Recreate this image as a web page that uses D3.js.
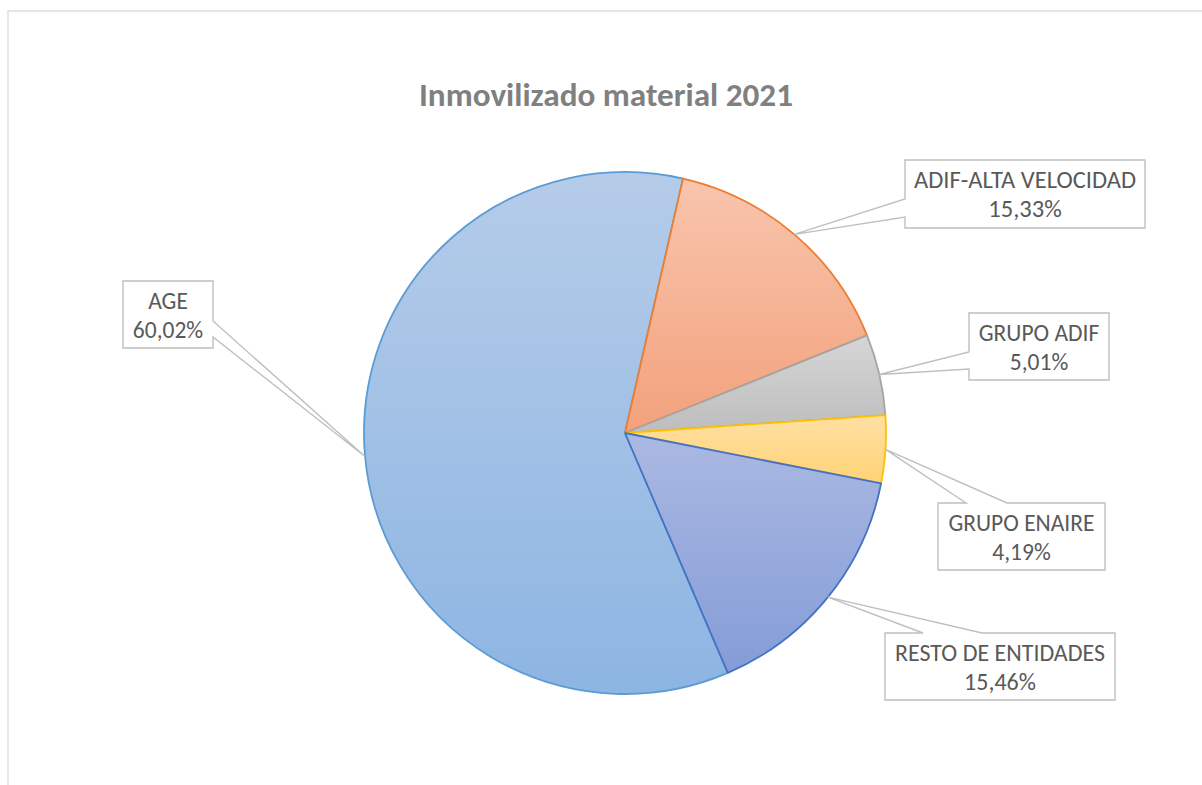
<!DOCTYPE html>
<html><head><meta charset="utf-8">
<script src="https://cdn.jsdelivr.net/npm/d3@7"></script>
<style>
html,body{margin:0;padding:0;background:#fff;}
svg{display:block;}
</style></head>
<body>
<svg id="chart" width="1202" height="785"></svg>
<script>
// ---- data ----
const categories = ["ADIF-ALTA VELOCIDAD", "GRUPO ADIF", "GRUPO ENAIRE", "RESTO DE ENTIDADES", "AGE"];
const values = [15.33, 5.01, 4.19, 15.46, 60.02];
const valueLabels = ["15,33%", "5,01%", "4,19%", "15,46%", "60,02%"];
const title = "Inmovilizado material 2021";

// ---- styles / layout ----
const fills = [["#f8c5ad", "#f3a17c"], ["#d6d6d6", "#bdbdbd"], ["#ffe0a3", "#ffd276"], ["#abb9e2", "#849cd7"], ["#b5cce9", "#8db5e2"]];
const strokes = ["#ed7d31", "#a5a5a5", "#ffc000", "#4472c4", "#5b9bd5"];
const drawOrder = [4, 0, 1, 2, 3];
const labelLayout = [
  {x: 905, y: 160, w: 240, h: 68, side: "left", a: 39, b: 57, tw: 222},
  {x: 969, y: 313, w: 140, h: 67, side: "left", a: 39, b: 56, tw: 121},
  {x: 938, y: 503, w: 167, h: 67, side: "top", a: 28, b: 69, tw: 147},
  {x: 885, y: 633, w: 230, h: 67, side: "top", a: 38, b: 97, tw: 210},
  {x: 123, y: 281, w: 90, h: 67, side: "right", a: 40, b: 56, tw: 70}
];
const cx = 625, cy = 433, R = 261;
const startDeg = 12.85;
const FONT = "Carlito, Calibri, Lato, 'Open Sans', sans-serif";

const svg = d3.select("#chart");

// chart border
svg.append("rect").attr("x", 8).attr("y", 11).attr("width", 1300).attr("height", 900)
  .attr("fill", "#fff").attr("stroke", "#d9d9d9").attr("stroke-width", 1.3);

// gradients
const defs = svg.append("defs");
fills.forEach((f, i) => {
  const g = defs.append("linearGradient").attr("id", "g" + i)
    .attr("x1", 0).attr("y1", 0).attr("x2", 0).attr("y2", 1);
  g.append("stop").attr("offset", "0%").attr("stop-color", f[0]);
  g.append("stop").attr("offset", "100%").attr("stop-color", f[1]);
});

// title
const t = svg.append("text").attr("x", 606).attr("y", 106).attr("text-anchor", "middle")
  .attr("font-family", FONT).attr("font-weight", "bold").attr("font-size", 32)
  .attr("fill", "#808080").text(title);
const tw = t.node().getComputedTextLength();
if (Math.abs(tw - 374) > 4) t.attr("textLength", 374).attr("lengthAdjust", "spacingAndGlyphs");

// pie
const a0 = startDeg * Math.PI / 180;
const pie = d3.pie().sort(null).startAngle(a0).endAngle(a0 + 2 * Math.PI);
const arcs = pie(values);
arcs.forEach((d, i) => d.idx = i);
const arc = d3.arc().innerRadius(0).outerRadius(R);
const gPie = svg.append("g").attr("transform", `translate(${cx},${cy})`);
gPie.selectAll("path").data(drawOrder.map(i => arcs[i])).join("path")
  .attr("d", arc)
  .attr("fill", d => `url(#g${d.idx})`)
  .attr("stroke", d => strokes[d.idx])
  .attr("stroke-width", 1.8)
  .attr("stroke-linejoin", "round");

// callouts
const gLab = svg.append("g");
arcs.forEach((d, i) => {
  const L = labelLayout[i];
  const mid = (d.startAngle + d.endAngle) / 2;
  const tx = cx + Math.sin(mid) * R, ty = cy - Math.cos(mid) * R;
  const {x, y, w, h, a, b} = L;
  const p = d3.path();
  p.moveTo(x, y);
  if (L.side === "top") { p.lineTo(x + a, y); p.lineTo(tx, ty); p.lineTo(x + b, y); }
  p.lineTo(x + w, y);
  if (L.side === "right") { p.lineTo(x + w, y + a); p.lineTo(tx, ty); p.lineTo(x + w, y + b); }
  p.lineTo(x + w, y + h);
  p.lineTo(x, y + h);
  if (L.side === "left") { p.lineTo(x, y + b); p.lineTo(tx, ty); p.lineTo(x, y + a); }
  p.closePath();
  gLab.append("path").attr("d", p.toString()).attr("fill", "#fff")
    .attr("stroke", "#bfbfbf").attr("stroke-width", 1.4).attr("stroke-linejoin", "miter");
  const lines = [categories[i], valueLabels[i]];
  const texts = lines.map((s, k) => gLab.append("text")
    .attr("x", x + w / 2).attr("y", y + 28 + k * 29)
    .attr("text-anchor", "middle").attr("font-family", FONT).attr("font-size", 23.5)
    .attr("fill", "#595959").text(s));
  const widths = texts.map(tt => tt.node().getComputedTextLength());
  const maxW = d3.max(widths);
  const ratio = L.tw / maxW;
  if (Math.abs(ratio - 1) > 0.02) {
    texts.forEach((tt, k) => tt.attr("textLength", widths[k] * ratio).attr("lengthAdjust", "spacingAndGlyphs"));
  }
});
</script>
</body></html>
